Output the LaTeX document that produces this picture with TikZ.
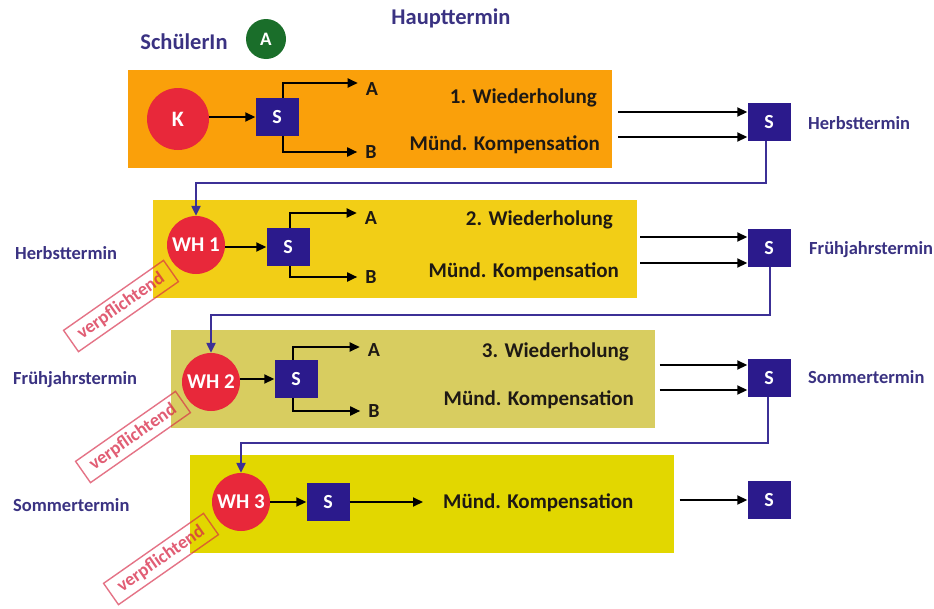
\documentclass[tikz,border=0pt]{standalone}
\usepackage{fontspec}
\setmainfont{Carlito}
\usetikzlibrary{arrows.meta,calc}
\definecolor{sblue}{RGB}{43,26,140}
\definecolor{lblue}{RGB}{58,50,130}
\definecolor{cblue}{RGB}{60,48,150}
\definecolor{kred}{RGB}{232,40,58}
\definecolor{vred}{RGB}{215,40,70}
\definecolor{agreen}{RGB}{26,110,42}
\definecolor{c1}{RGB}{250,160,10}
\definecolor{c2}{RGB}{242,206,22}
\definecolor{c3}{RGB}{216,205,96}
\definecolor{c4}{RGB}{226,215,0}
\definecolor{txt}{RGB}{30,25,20}
\begin{document}
\begin{tikzpicture}[x=1pt,y=-1pt,
  bx/.style={minimum width=484pt,minimum height=98pt,inner sep=0pt},
  sbox/.style={fill=sblue,text=white,minimum width=43pt,minimum height=38pt,inner sep=0pt,font=\fontsize{20}{22}\selectfont\bfseries},
  circ/.style={circle,fill=kred,text=white,minimum size=58pt,inner sep=0pt,font=\fontsize{21}{23}\selectfont\bfseries},
  main/.style={text=txt,font=\fontsize{21}{23}\selectfont\bfseries,inner sep=0pt},
  side/.style={text=lblue,font=\fontsize{18.5}{20}\selectfont\bfseries,inner sep=0pt,anchor=west},
  ab/.style={text=txt,font=\fontsize{20}{22}\selectfont\bfseries,inner sep=0pt},
  arr/.style={line width=1.8pt,-{Triangle[length=10pt,width=9pt]}},
  conn/.style={draw=cblue,line width=2.2pt,-{Triangle[length=10pt,width=9pt]}},
  verp/.style={draw=vred,line width=1.4pt,text=vred,draw opacity=0.65,text opacity=0.75,rotate=35,minimum width=122pt,minimum height=26pt,inner sep=0pt,font=\fontsize{18.5}{20}\selectfont\bfseries}
]
\useasboundingbox (0,0) rectangle (934,608);
\fill[white] (0,0) rectangle (934,608);
% header
\node[text=lblue,font=\fontsize{22.5}{24}\selectfont\bfseries] (title) at (451,18) {Haupttermin};
\node[text=lblue,font=\fontsize{22.5}{24}\selectfont\bfseries] (sch) at (184,42) {SchülerIn};
\node[circle,fill=agreen,text=white,minimum size=40pt,inner sep=0pt,font=\fontsize{19}{21}\selectfont\bfseries] (ga) at (266,39) {A};
% boxes
\node[bx,fill=c1] (box1) at (370,119) {};
\node[bx,fill=c2] (box2) at (395,249) {};
\node[bx,fill=c3] (box3) at (412.5,379) {};
\node[bx,fill=c4] (box4) at (431.5,504) {};
% verpflichtend labels
\node[verp] (v1) at (121,306) {verpflichtend};
\node[verp] (v2) at (133,437) {verpflichtend};
\node[verp] (v3) at (161,559) {verpflichtend};
% circles
\node[circ,minimum size=62pt,font=\fontsize{22}{24}\selectfont\bfseries] (K) at (178,119) {K};
\node[circ] (WH1) at (196,245) {WH 1};
\node[circ] (WH2) at (211,382) {WH 2};
\node[circ] (WH3) at (241,502) {WH 3};
% inner S boxes
\node[sbox] (S1) at (277,117) {S};
\node[sbox] (S2) at (288,247) {S};
\node[sbox] (S3) at (296,379) {S};
\node[sbox] (S4) at (328,502) {S};
% right S boxes
\node[sbox] (R1) at (769,122) {S};
\node[sbox] (R2) at (769,248) {S};
\node[sbox] (R3) at (769,378) {S};
\node[sbox] (R4) at (769,500) {S};
% A / B labels
\node[ab] (A1) at (372,89) {A};
\node[ab] (B1) at (371,152) {B};
\node[ab] (A2) at (371,218) {A};
\node[ab] (B2) at (371,277) {B};
\node[ab] (A3) at (374,350) {A};
\node[ab] (B3) at (374,411) {B};
% texts in boxes
\node[main,anchor=east] (w1) at (597,98) {1. Wiederholung};
\node[main,anchor=east] (m1) at (600,145) {Münd. Kompensation};
\node[main,anchor=east] (w2) at (613,220) {2. Wiederholung};
\node[main,anchor=east] (m2) at (619,272) {Münd. Kompensation};
\node[main,anchor=east] (w3) at (629,352) {3. Wiederholung};
\node[main,anchor=east] (m3) at (634,400) {Münd. Kompensation};
\node[main,anchor=west] (m4) at (443,503) {Münd. Kompensation};
% side labels
\node[side] (h1r) at (808,123) {Herbsttermin};
\node[side] (f1r) at (809,250) {Frühjahrstermin};
\node[side] (s1r) at (808,377) {Sommertermin};
\node[side] (h1l) at (15,253) {Herbsttermin};
\node[side] (f1l) at (13,380) {Frühjahrstermin};
\node[side] (s1l) at (13,505) {Sommertermin};
% arrows inside boxes
\draw[arr] (K.east |- S1.west) -- (S1.west);
\draw[arr] ([xshift=6pt]S1.north) |- ([xshift=-8pt,yshift=6pt]A1.west);
\draw[arr] ([xshift=6pt]S1.south) |- ([xshift=-8pt]B1.west);
\draw[arr] (WH1.east |- S2.west) -- (S2.west);
\draw[arr] ([xshift=2pt]S2.north) |- ([xshift=-8pt,yshift=5pt]A2.west);
\draw[arr] ([xshift=2pt]S2.south) |- ([xshift=-8pt]B2.west);
\draw[arr] (WH2.east |- S3.west) -- (S3.west);
\draw[arr] ([xshift=-3pt]S3.north) |- ([xshift=-8pt,yshift=3pt]A3.west);
\draw[arr] ([xshift=-3pt]S3.south) |- ([xshift=-8pt]B3.west);
\draw[arr] (WH3.east |- S4.west) -- (S4.west);
\draw[arr] (S4.east) -- ($(S4.east -| m4.west)+(-20,0)$);
% arrows to right S boxes
\coordinate (r1a) at ([yshift=10pt]R1.west);
\coordinate (r1b) at ([yshift=-15pt]R1.west);
\draw[arr] ($(box1.east |- r1a)+(6,0)$) -- (r1a);
\draw[arr] ($(box1.east |- r1b)+(6,0)$) -- (r1b);
\coordinate (r2a) at ([yshift=11pt]R2.west);
\coordinate (r2b) at ([yshift=-15pt]R2.west);
\draw[arr] ($(box2.east |- r2a)+(3,0)$) -- (r2a);
\draw[arr] ($(box2.east |- r2b)+(3,0)$) -- (r2b);
\coordinate (r3a) at ([yshift=13pt]R3.west);
\coordinate (r3b) at ([yshift=-12pt]R3.west);
\draw[arr] ($(box3.east |- r3a)+(5,0)$) -- (r3a);
\draw[arr] ($(box3.east |- r3b)+(5,0)$) -- (r3b);
\draw[arr] ($(box4.east |- R4.west)+(6,0)$) -- (R4.west);
% connectors between stages
\draw[conn] ([xshift=-3pt]R1.south) |- ($(WH1.north)+(0,-33)$) -- (WH1.north);
\draw[conn] ([xshift=1pt]R2.south) |- ($(WH2.north)+(0,-38)$) -- (WH2.north);
\draw[conn] ([xshift=-1pt]R3.south) |- ($(WH3.north)+(0,-30)$) -- (WH3.north);
\end{tikzpicture}
\end{document}
